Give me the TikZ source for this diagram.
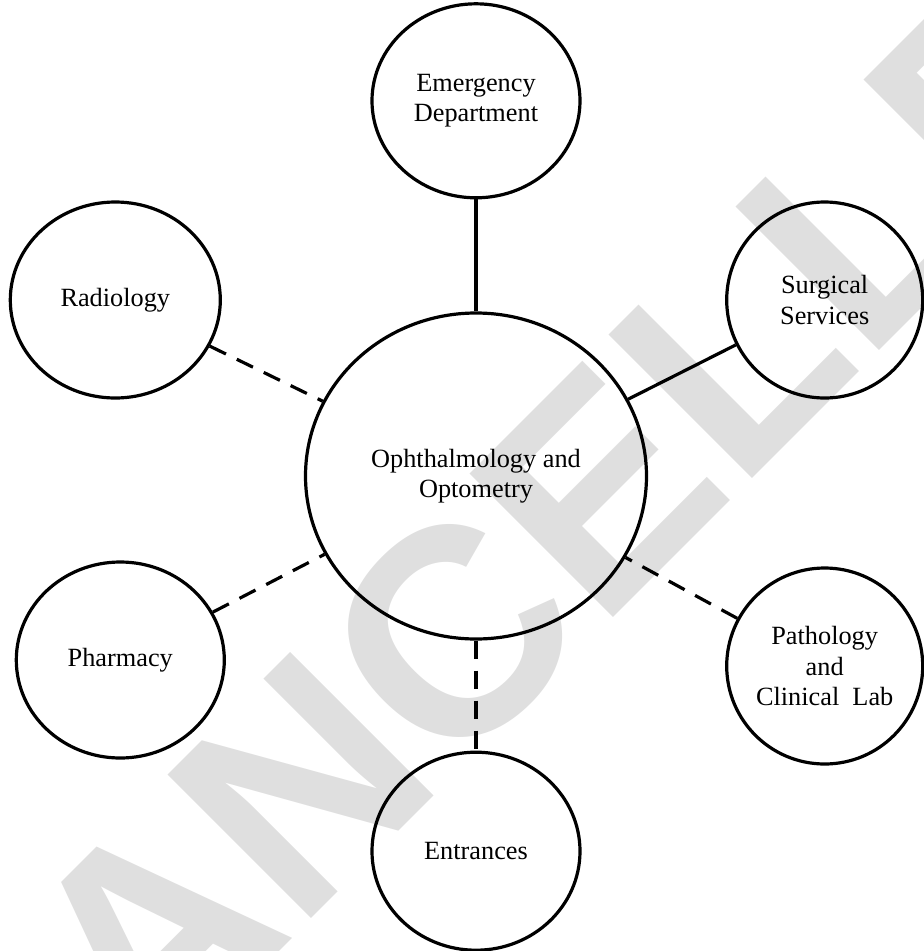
\documentclass[tikz,border=0pt]{standalone}
\usepackage{fontspec}
\setmainfont{Liberation Serif}
\setsansfont{Liberation Sans}
\usetikzlibrary{positioning,shapes.geometric}

\tikzset{
	dept/.style={ellipse, draw, line width=3.2pt, inner sep=0pt, align=center,
		font=\fontsize{26.3}{30.5}\selectfont},
	solidlink/.style={line width=3.2pt},
	dashlink/.style={line width=3.2pt, dash pattern=on 18pt off 12pt},
	stamp/.style={text=gray!25, inner sep=0pt, font=\fontsize{295}{295}\selectfont\sffamily\bfseries}
}

\begin{document}
\begin{tikzpicture}[x=1pt, y=1pt]
		\useasboundingbox (0,0) rectangle (924,-951);
		% watermark behind the chart
		\node [stamp, rotate=45] (cancel) at (568,-519) {CANCELLED};
		
		\node [dept, minimum width=341pt, minimum height=326pt] (oo) at (476,-476) {Ophthalmology and\\Optometry};
		\node [dept, minimum width=208pt, minimum height=194pt, above=112pt of oo] (ed) {Emergency\\Department};
		\node [dept, minimum width=208pt, minimum height=198pt, below=110pt of oo] (ent) {Entrances};
		\node [dept, minimum width=210pt, minimum height=196pt, left=82pt of oo, yshift=176pt] (rad) {Radiology};
		\node [dept, minimum width=208pt, minimum height=196pt, left=78pt of oo, yshift=-184pt] (ph) {Pharmacy};
		\node [dept, minimum width=196pt, minimum height=196pt, right=77pt of oo, yshift=176pt] (ss) {Surgical\\Services};
		\node [dept, minimum width=196pt, minimum height=196pt, right=77pt of oo, yshift=-190pt] (pcl) {Pathology\\and\\Clinical~ Lab};
		
		\draw [solidlink] (ed) -- (oo);
		\draw [solidlink] (ss) -- (oo);
		\draw [dashlink] (rad) -- (oo);
		\draw [dashlink] (ph) -- (oo);
		\draw [dashlink] (pcl) -- (oo);
		\draw [dashlink] (oo) -- (ent);
\end{tikzpicture}
\end{document}
